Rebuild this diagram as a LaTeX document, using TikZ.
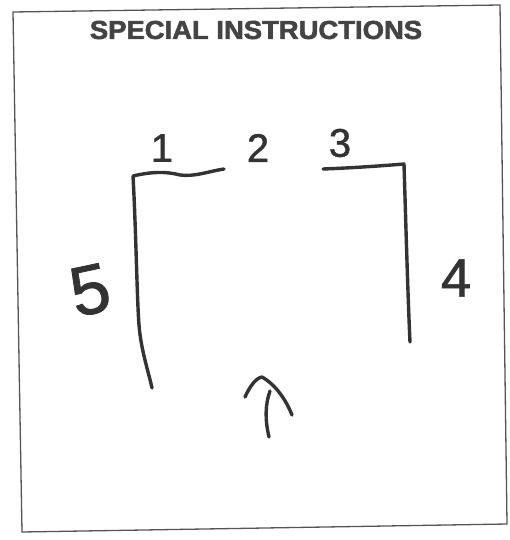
\documentclass[tikz,border=0pt]{standalone}
\usepackage{fontspec}
\setmainfont{Liberation Sans}
\newfontfamily\titlefont[FakeBold=2.2]{Liberation Sans Bold}
\newfontfamily\handfont[FakeBold=1.2]{Liberation Sans}
\definecolor{ink}{HTML}{333333}
\definecolor{titlegray}{HTML}{444444}
\definecolor{framegray}{HTML}{555555}
\tikzset{
  pen/.style={draw=ink, line width=3.4pt, line cap=round, line join=round},
  frameline/.style={draw=framegray, line width=1.3pt, line join=miter},
  digit/.style={text=ink, inner sep=0pt, font=\handfont\fontsize{40}{40}\selectfont}
}
\begin{document}
\begin{tikzpicture}[x=1pt,y=-1pt]
\useasboundingbox (0,0) rectangle (510,540);
% frame
\coordinate (f1) at (13,12);
\coordinate (f2) at (500,5);
\coordinate (f3) at (507,524);
\coordinate (f4) at (22,532);
\draw[frameline] (f1) -- (f2) -- (f3) -- (f4) -- cycle;
% title
\node[text=titlegray, inner sep=0pt, xscale=1.055, font=\titlefont\fontsize{26}{26}\selectfont] (title) at (256,30) {SPECIAL INSTRUCTIONS};
% labels
\node[digit] (l1) at (162,148) {1};
\node[digit] (l2) at (258,148) {2};
\node[digit] (l3) at (340,143) {3};
\node[digit, font=\handfont\fontsize{54}{54}\selectfont] (l4) at (456,278) {4};
\node[digit, font=\handfont\fontsize{70}{70}\selectfont, rotate=12] (l5) at (90,290) {5};
% strokes
\coordinate (a1) at (133,176);
\coordinate (a2) at (224,169);
\coordinate (a3) at (152,388);
\coordinate (b1) at (323,169);
\coordinate (b2) at (404,164);
\coordinate (b3) at (410,342);
\draw[pen] (a2) .. controls (210,171) and (195,177) .. (180,175)
          .. controls (165,171) and (150,172) .. (a1)
          .. controls (136,230) and (137,300) .. (139,325)
          .. controls (141,350) and (148,370) .. (a3);
\draw[pen] (b1) .. controls (350,168) and (380,166) .. (b2)
          .. controls (406,230) and (408,300) .. (b3);
% arrow
\coordinate (s1) at (270,391);
\coordinate (s2) at (269,437);
\coordinate (h1) at (245,397);
\coordinate (hx) at (262,377);
\coordinate (h2) at (292,415);
\draw[pen] (s1) .. controls (265,405) and (265,420) .. (s2);
\draw[pen] (h1) .. controls (250,386) and (256,378) .. (hx)
          .. controls (276,385) and (286,400) .. (h2);
\end{tikzpicture}
\end{document}
